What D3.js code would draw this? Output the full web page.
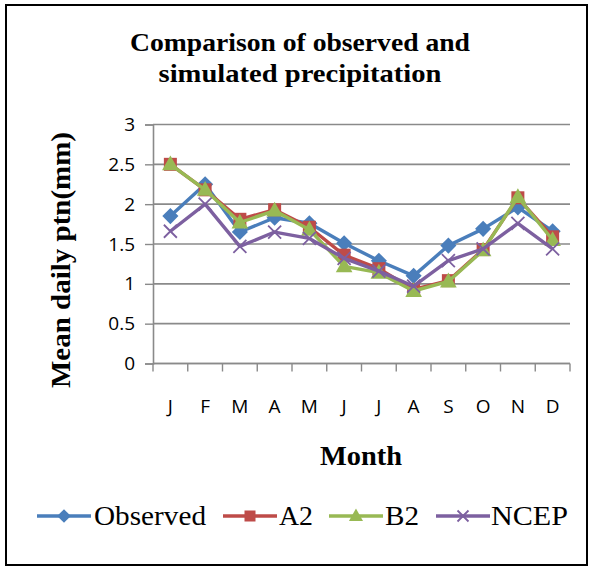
<!DOCTYPE html>
<html>
<head>
<meta charset="utf-8">
<script src="https://cdn.jsdelivr.net/npm/d3@7"></script>
<style>
  html, body { margin: 0; padding: 0; background: #fff; }
  svg { display: block; }
</style>
</head>
<body>
<svg id="chart" width="592" height="570"></svg>
<script>
// Monthly mean daily precipitation (mm)
const months = ["J", "F", "M", "A", "M", "J", "J", "A", "S", "O", "N", "D"];
const observed = [1.85, 2.25, 1.65, 1.83, 1.76, 1.51, 1.29, 1.10, 1.48, 1.69, 1.96, 1.66];
const a2       = [2.50, 2.18, 1.81, 1.93, 1.71, 1.36, 1.19, 0.93, 1.04, 1.43, 2.08, 1.59];
const b2       = [2.50, 2.18, 1.77, 1.92, 1.68, 1.22, 1.14, 0.91, 1.03, 1.42, 2.09, 1.55];
const ncep     = [1.66, 2.00, 1.47, 1.65, 1.57, 1.32, 1.16, 0.97, 1.29, 1.44, 1.76, 1.44];
const yTicks   = [0, 0.5, 1, 1.5, 2, 2.5, 3];
const seriesNames = ["Observed", "A2", "B2", "NCEP"];

const series = [
  { name: seriesNames[0], values: observed, color: "#4A7EBB", marker: "diamond" },
  { name: seriesNames[1], values: a2,       color: "#BE4B48", marker: "square" },
  { name: seriesNames[2], values: b2,       color: "#98B954", marker: "triangle" },
  { name: seriesNames[3], values: ncep,     color: "#7D60A0", marker: "cross" }
];

const serif = "'Liberation Serif', 'Times New Roman', serif";
const sans = "'Open Sans', 'Noto Sans', sans-serif";

const svg = d3.select("#chart");
const plot = { left: 153, right: 570, top: 124.5, bottom: 363.5 };

const x = d3.scaleBand().domain(d3.range(months.length)).range([plot.left, plot.right]);
const y = d3.scaleLinear().domain([0, 3]).range([plot.bottom, plot.top]);
const cx = i => x(i) + x.bandwidth() / 2;

// outer frame
svg.append("rect")
  .attr("x", 6).attr("y", 5).attr("width", 581).attr("height", 560)
  .attr("fill", "#fff").attr("stroke", "#000").attr("stroke-width", 2);

// title, two centred lines
const titleLines = [
  { text: "Comparison of observed and", y: 51, w: 340 },
  { text: "simulated precipitation", y: 82, w: 283 }
];
svg.append("g").selectAll("text")
  .data(titleLines)
  .join("text")
  .attr("x", 300).attr("y", d => d.y)
  .attr("text-anchor", "middle")
  .attr("font-family", serif).attr("font-weight", "bold").attr("font-size", 26)
  .attr("textLength", d => d.w).attr("lengthAdjust", "spacingAndGlyphs")
  .text(d => d.text);

// horizontal gridlines
svg.append("g")
  .selectAll("line")
  .data(yTicks)
  .join("line")
  .attr("x1", plot.left).attr("x2", plot.right)
  .attr("y1", d => y(d)).attr("y2", d => y(d))
  .attr("stroke", "#8a8a8a").attr("stroke-width", 1.6);

// y axis
const yAxis = svg.append("g")
  .attr("transform", `translate(${plot.left},0)`)
  .call(d3.axisLeft(y).tickValues(yTicks).tickFormat(d3.format("")).tickSize(8).tickPadding(10));
yAxis.select(".domain").attr("stroke", "#8a8a8a").attr("stroke-width", 1.6);
yAxis.selectAll(".tick line").attr("stroke", "#8a8a8a").attr("stroke-width", 1.4);
yAxis.selectAll(".tick text")
  .attr("font-family", sans).attr("font-size", 19).attr("fill", "#000");

// x axis with ticks at category boundaries
const xAxis = svg.append("g").attr("transform", `translate(0,${plot.bottom})`);
xAxis.append("line")
  .attr("x1", plot.left).attr("x2", plot.right)
  .attr("stroke", "#8a8a8a").attr("stroke-width", 1.6);
xAxis.selectAll("line.tk")
  .data(d3.range(months.length + 1))
  .join("line")
  .attr("class", "tk")
  .attr("x1", i => i < months.length ? x(i) : plot.right)
  .attr("x2", i => i < months.length ? x(i) : plot.right)
  .attr("y1", 0).attr("y2", 8)
  .attr("stroke", "#8a8a8a").attr("stroke-width", 1.4);
xAxis.selectAll("text")
  .data(months)
  .join("text")
  .attr("x", (d, i) => cx(i)).attr("y", 49)
  .attr("text-anchor", "middle")
  .attr("font-family", sans).attr("font-size", 19).attr("fill", "#000")
  .text(d => d);

// axis titles
svg.append("text")
  .attr("x", 361).attr("y", 465)
  .attr("text-anchor", "middle")
  .attr("font-family", serif).attr("font-weight", "bold").attr("font-size", 27)
  .attr("textLength", 82).attr("lengthAdjust", "spacingAndGlyphs")
  .text("Month");

svg.append("text")
  .attr("transform", `translate(70,${(plot.top + plot.bottom) / 2 + 16}) rotate(-90)`)
  .attr("text-anchor", "middle")
  .attr("font-family", serif).attr("font-weight", "bold").attr("font-size", 27)
  .attr("textLength", 256).attr("lengthAdjust", "spacingAndGlyphs")
  .text("Mean daily ptn(mm)");

// marker drawing
function drawMarker(g, type, color, size) {
  const s = size;
  if (type === "diamond") {
    g.append("path").attr("d", `M0,${-s * 0.62}L${s * 0.62},0L0,${s * 0.62}L${-s * 0.62},0Z`).attr("fill", color);
  } else if (type === "square") {
    g.append("rect").attr("x", -s / 2).attr("y", -s / 2).attr("width", s).attr("height", s).attr("fill", color);
  } else if (type === "triangle") {
    g.append("path").attr("d", `M0,${-s * 0.68}L${s * 0.64},${s * 0.46}L${-s * 0.64},${s * 0.46}Z`).attr("fill", color);
  } else if (type === "cross") {
    const h = s * 0.5;
    g.append("path").attr("d", `M${-h},${-h}L${h},${h}M${-h},${h}L${h},${-h}`)
      .attr("stroke", color).attr("stroke-width", 1.8).attr("fill", "none");
  }
}

const line = d3.line().x((d, i) => cx(i)).y(d => y(d));

series.forEach(s => {
  const g = svg.append("g");
  g.append("path")
    .attr("d", line(s.values))
    .attr("fill", "none").attr("stroke", s.color)
    .attr("stroke-width", 3.4).attr("stroke-linejoin", "round");
  s.values.forEach((v, i) => {
    const m = g.append("g").attr("transform", `translate(${cx(i)},${y(v)})`);
    drawMarker(m, s.marker, s.color, 13);
  });
});

// legend
const legendItems = [
  { lx: 37, tx: 94, w: 112 },
  { lx: 223, tx: 279, w: 34 },
  { lx: 329, tx: 385, w: 34 },
  { lx: 436, tx: 491, w: 77 }
];
const legend = svg.append("g");
series.forEach((s, k) => {
  const it = legendItems[k];
  const ly = 516;
  legend.append("line")
    .attr("x1", it.lx).attr("x2", it.lx + 54)
    .attr("y1", ly).attr("y2", ly)
    .attr("stroke", s.color).attr("stroke-width", 3.4);
  const m = legend.append("g").attr("transform", `translate(${it.lx + 27},${ly})`);
  drawMarker(m, s.marker, s.color, 11);
  legend.append("text")
    .attr("x", it.tx).attr("y", ly + 9)
    .attr("font-family", serif).attr("font-size", 27).attr("fill", "#000")
    .attr("textLength", it.w).attr("lengthAdjust", "spacingAndGlyphs")
    .text(s.name);
});
</script>
</body>
</html>
